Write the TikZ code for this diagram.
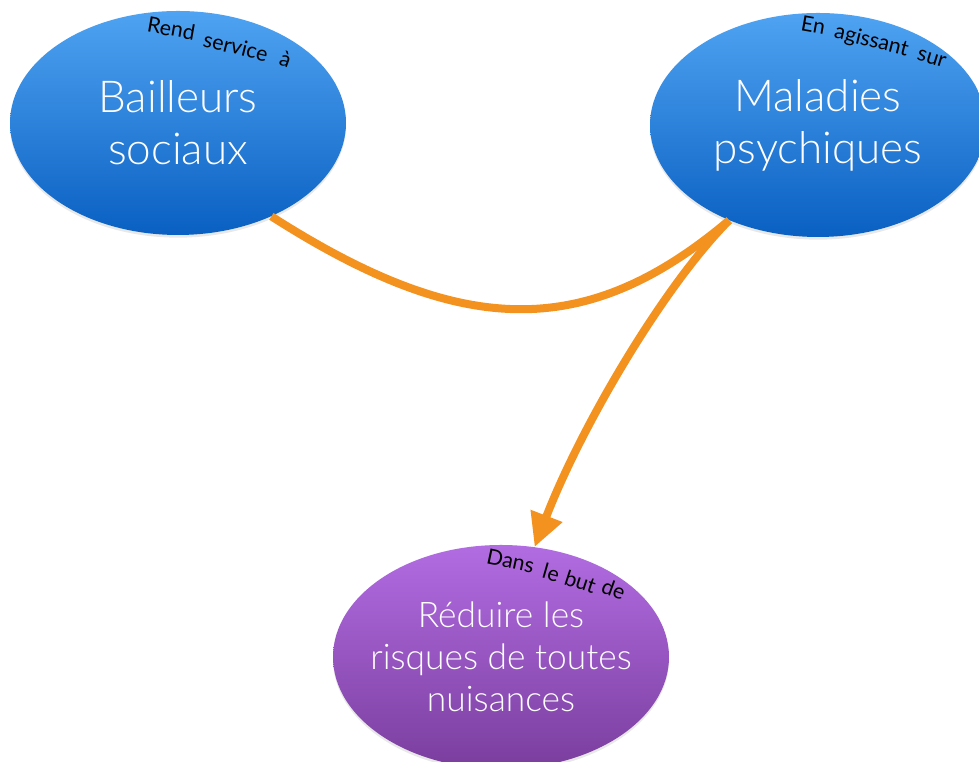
\documentclass[tikz,border=0pt]{standalone}
\usepackage{fontspec}
\setmainfont{Lato}
\newfontfamily\lightfont{Lato Light}
\usetikzlibrary{shapes.geometric,arrows.meta,shadows,calc}
\definecolor{bluetop}{HTML}{4FA3F2}
\definecolor{bluebot}{HTML}{0A60C2}
\definecolor{purtop}{HTML}{B26CE2}
\definecolor{purbot}{HTML}{7A3E9E}
\definecolor{orangeline}{HTML}{F3921F}
\begin{document}
\begin{tikzpicture}[x=0.75pt,y=0.75pt,
  bubble/.style={ellipse, inner ysep=0pt, inner xsep=-12pt, minimum width=336*0.75pt, minimum height=224*0.75pt,
    align=center, text=white,
    drop shadow={shadow xshift=0pt, shadow yshift=-2pt, opacity=0.18}},
  bluebubble/.style={bubble, top color=bluetop, bottom color=bluebot, font=\lightfont\fontsize{33}{39}\selectfont},
  purplebubble/.style={bubble, top color=purtop, bottom color=purbot, font=\lightfont\fontsize{26.5}{31.5}\selectfont},
  link/.style={draw=orangeline, line width=6pt},
  wordlabel/.style={anchor=base, inner sep=0pt, text=black, font=\fontsize{16}{16}\selectfont}
]
\useasboundingbox (0,0) rectangle (979,762);
\fill[white] (0,0) rectangle (979,762);

\node[bluebubble] (b) at (178,639) {Bailleurs\\sociaux};
\node[bluebubble] (m) at (818,637) {Maladies\\psychiques};
\node[purplebubble] (r) at (501,105) {Réduire les\\risques de toutes\\nuisances};

% "Rend service à"
\node[wordlabel, rotate=-10] (b1) at ($(b.center)+(-8,87)$) {Rend};
\node[wordlabel, rotate=-14] (b2) at ($(b.center)+(56,69)$) {service};
\node[wordlabel, rotate=-20] (b3) at ($(b.center)+(105,57)$) {à};
% "En agissant sur"
\node[wordlabel, rotate=-10] (m1) at ($(m.center)+(-6,92)$) {En};
\node[wordlabel, rotate=-14] (m2) at ($(m.center)+(52,78)$) {agissant};
\node[wordlabel, rotate=-17] (m3) at ($(m.center)+(112,61)$) {sur};
% "Dans le but de"
\node[wordlabel, rotate=-12] (r1) at ($(r.center)+(8,89)$) {Dans};
\node[wordlabel, rotate=-16] (r2) at ($(r.center)+(48,77)$) {le};
\node[wordlabel, rotate=-18] (r3) at ($(r.center)+(77,68)$) {but};
\node[wordlabel, rotate=-20] (r4) at ($(r.center)+(110,61)$) {de};

\draw[link] (b.-45) .. controls (460,425) and (585,420) .. (m.-133);
\draw[link, -{Triangle[length=25pt, width=24pt]}] (m.-133) .. controls (662,474) and (580,333) .. (r.73);
\end{tikzpicture}
\end{document}
